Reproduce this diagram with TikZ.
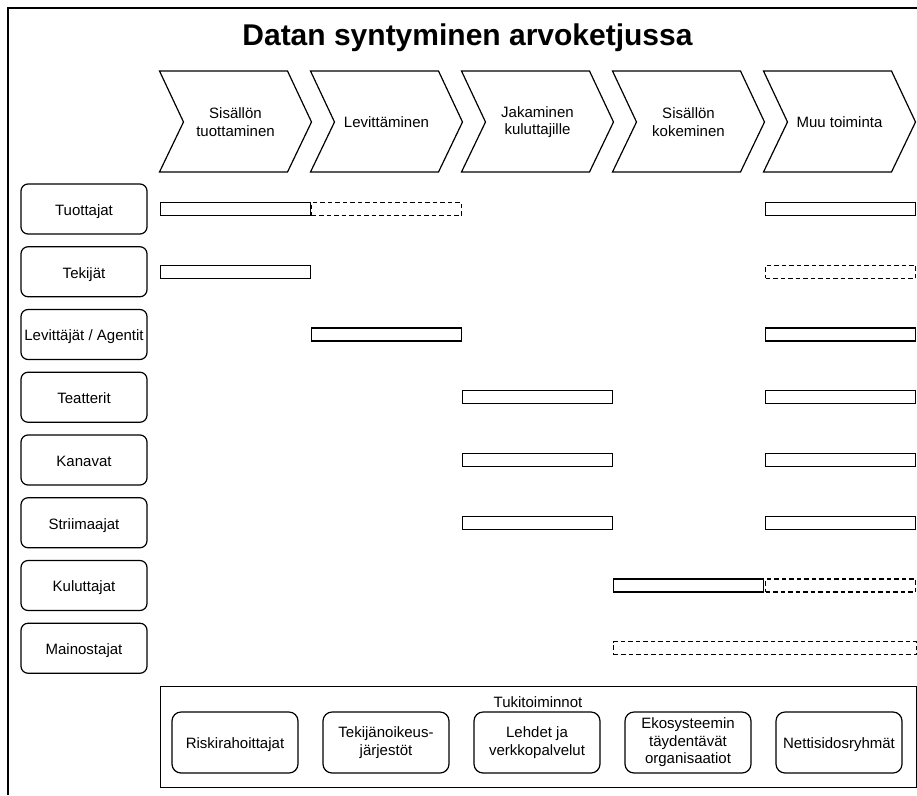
\documentclass[tikz,border=0pt]{standalone}
\usepackage{fontspec}
\setmainfont{Liberation Sans}
\begin{document}
\begin{tikzpicture}[x=1pt,y=-1pt,
  txt/.style={font=\fontsize{15}{17.5}\selectfont,align=center,inner sep=0pt},
  oneline/.style={text height=12.5pt,text depth=0pt},
  actor/.style={txt,oneline,draw,line width=1.2pt,rounded corners=7pt,minimum width=126pt,minimum height=50pt},
  support/.style={txt,draw,line width=1.2pt,rounded corners=9pt,minimum width=126pt,minimum height=61pt},
  bar/.style={draw,line width=1.1pt,anchor=west,inner sep=0pt,minimum height=13pt,minimum width=150pt},
  dashbar/.style={bar,dash pattern=on 4.5pt off 3pt},
  chevron/.style={line width=1.2pt}]
\useasboundingbox (0,0) rectangle (917,795);
% outer frame
\draw[line width=2pt] (917,8) -- (8,8) -- (8,795);

% title
\node[anchor=base,font=\bfseries\fontsize{30}{34}\selectfont,inner sep=0pt] (title) at (467.5,45) {Datan syntyminen arvoketjussa};

% value chain stages
\foreach \i/\t in {0/{Sisällön\\tuottaminen},1/{Levittäminen},2/{Jakaminen\\kuluttajille},3/{Sisällön\\kokeminen},4/{Muu toiminta}}{
  \pgfmathsetmacro{\xo}{159.5+151*\i}
  \draw[chevron] (\xo,71) -- ++(128,0) -- ++(24,51) -- ++(-24,50) -- ++(-128,0) -- ++(24,-50) -- cycle;
  \node[txt] (stage\i) at (\xo+76,122) {\t};
}

% actors
\foreach \i/\t in {1/Tuottajat,2/Tekijät,3/{Levittäjät / Agentit},4/Teatterit,5/Kanavat,6/Striimaajat,7/Kuluttajat,8/Mainostajat}{
  \node[actor] (actor\i) at (84,{209+62.75*(\i-1)}) {\t};
}

% activity bars (column x positions: 160, 311, 462, 613, 764)
\node[bar]     (b1a) at (160,{209}) {};
\node[dashbar] (b1b) at (311,{209}) {};
\node[bar]     (b1e) at (765,{209}) {};

\node[bar]     (b2a) at (160,{209+62.75}) {};
\node[dashbar] (b2e) at (765,{209+62.75}) {};

\node[bar]     (b3b) at (311,{209+62.75*2}) {};
\node[bar]     (b3e) at (765,{209+62.75*2}) {};

\node[bar]     (b4c) at (462,{209+62.75*3}) {};
\node[bar]     (b4e) at (765,{209+62.75*3}) {};

\node[bar]     (b5c) at (462,{209+62.75*4}) {};
\node[bar]     (b5e) at (765,{209+62.75*4}) {};

\node[bar]     (b6c) at (462,{209+62.75*5}) {};
\node[bar]     (b6e) at (765,{209+62.75*5}) {};

\node[dashbar] (b7e) at (765,{209+62.75*6}) {};
\node[bar]     (b7d) at (613,{209+62.75*6}) {};

\node[dashbar,minimum width=303pt] (b8d) at (613,{209+62.75*7}) {};

% support functions
\node[draw,line width=1.2pt,anchor=north west,minimum width=756pt,minimum height=101pt,inner sep=0pt] (suppbox) at (160,686) {};
\node[txt,oneline] (supptitle) at (538,701) {Tukitoiminnot};
\node[support,oneline] (supp0) at (235,742.5) {Riskirahoittajat};
\foreach \i/\t in {1/{Tekijänoikeus-\\järjestöt},2/{Lehdet ja\\verkkopalvelut},3/{Ekosysteemin\\täydentävät\\organisaatiot}}{
  \node[support] (supp\i) at ({235+151*\i},742.5) {\t};
}
\node[support,oneline] (supp4) at (839,742.5) {Nettisidosryhmät};
\end{tikzpicture}
\end{document}
